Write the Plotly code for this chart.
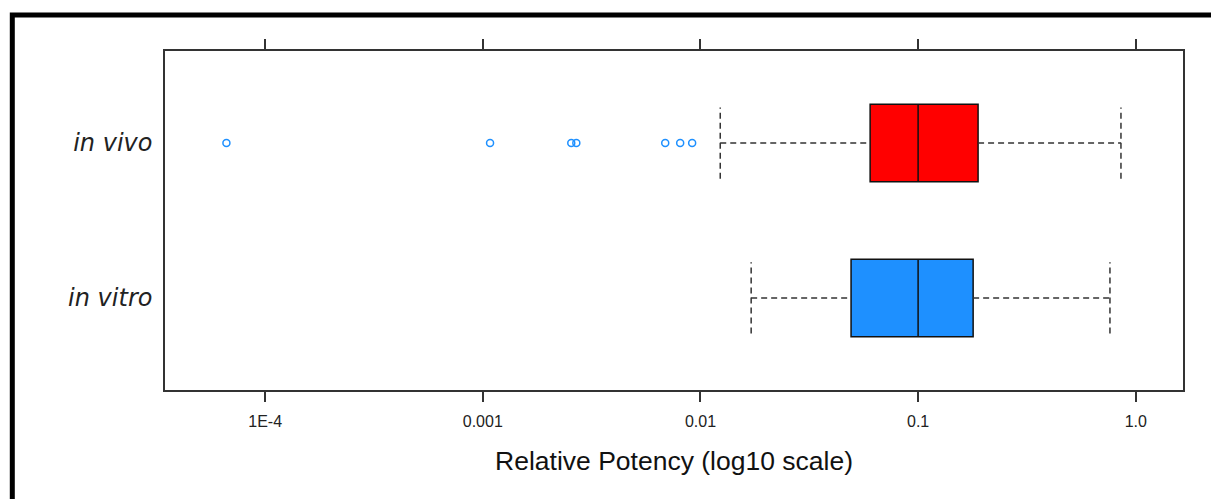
import plotly.graph_objects as go
import numpy as np

groups = ["in vitro", "in vivo"]
group_pos = [0, 1]
box_colors = ["#1E90FF", "#FF0000"]
q1 = [0.0492, 0.0602]
median = [0.1, 0.1]
q3 = [0.179, 0.1886]
lower_whisker = [0.0171, 0.01233]
upper_whisker = [0.761, 0.855]
outliers_vivo = [6.64e-5, 0.00108, 0.00255, 0.00269, 0.00689, 0.00807, 0.00916]
tick_vals = [1e-4, 1e-3, 1e-2, 1e-1, 1.0]
tick_text = ["1E-4", "0.001", "0.01", "0.1", "1.0"]

BOX_HALF = 0.25
CAP_HALF = 0.23
WHISK = "#333333"

fig = go.Figure()

for i, g in enumerate(groups):
    y = group_pos[i]
    fig.add_trace(go.Scatter(x=[lower_whisker[i], q1[i]], y=[y, y], mode="lines",
                             line=dict(color=WHISK, width=1.5, dash="6px,4px"), showlegend=False, hoverinfo="skip"))
    fig.add_trace(go.Scatter(x=[q3[i], upper_whisker[i]], y=[y, y], mode="lines",
                             line=dict(color=WHISK, width=1.5, dash="6px,4px"), showlegend=False, hoverinfo="skip"))
    for xv in (lower_whisker[i], upper_whisker[i]):
        fig.add_trace(go.Scatter(x=[xv, xv], y=[y - CAP_HALF, y + CAP_HALF], mode="lines",
                                 line=dict(color=WHISK, width=1.5, dash="6px,4px"), showlegend=False, hoverinfo="skip"))
    fig.add_trace(go.Box(orientation="h", y=[y], q1=[q1[i]], median=[median[i]], q3=[q3[i]],
                         lowerfence=[q1[i]], upperfence=[q3[i]], width=2 * BOX_HALF,
                         fillcolor=box_colors[i], line=dict(color="#111111", width=1.5),
                         whiskerwidth=0, showlegend=False, boxpoints=False, name=g))

fig.add_trace(go.Scatter(x=outliers_vivo, y=[group_pos[1]] * len(outliers_vivo), mode="markers",
                         marker=dict(symbol="circle-open", size=7, color="#1E90FF", line=dict(width=1.5)),
                         showlegend=False))

fig.update_xaxes(type="log", range=[np.log10(1e-4) - 0.46, 0.217], tickvals=tick_vals, ticktext=tick_text,
                 ticks="outside", ticklen=10, tickcolor="#333", tickwidth=1.5,
                 showline=True, linecolor="#333", linewidth=1.5, mirror="ticks",
                 showgrid=False, zeroline=False, ticklabelstandoff=6,
                 tickfont=dict(family="Liberation Sans, Arial, sans-serif", size=16, color="#222"),
                 title=dict(text="Relative Potency (log10 scale)", standoff=22,
                            font=dict(family="Liberation Sans, Arial, sans-serif", size=26.5, color="#111")))
fig.update_yaxes(range=[-0.594, 1.594], tickvals=group_pos,
                 ticktext=["<i>" + g + "</i>" for g in groups],
                 ticks="", showline=True, linecolor="#333", linewidth=1.5, mirror=True,
                 showgrid=False, zeroline=False, ticklabelstandoff=6,
                 tickfont=dict(family="DejaVu Sans, sans-serif", size=24, color="#222"))

fig.add_shape(type="rect", xref="paper", yref="paper", x0=-0.150, x1=1.3, y0=-0.6, y1=1.106,
              line=dict(color="black", width=5), fillcolor="rgba(0,0,0,0)", layer="above")

fig.update_layout(width=1219, height=499, margin=dict(l=156.5, r=44, t=43, b=117),
                  plot_bgcolor="white", paper_bgcolor="white")
fig.write_html("out.html")
